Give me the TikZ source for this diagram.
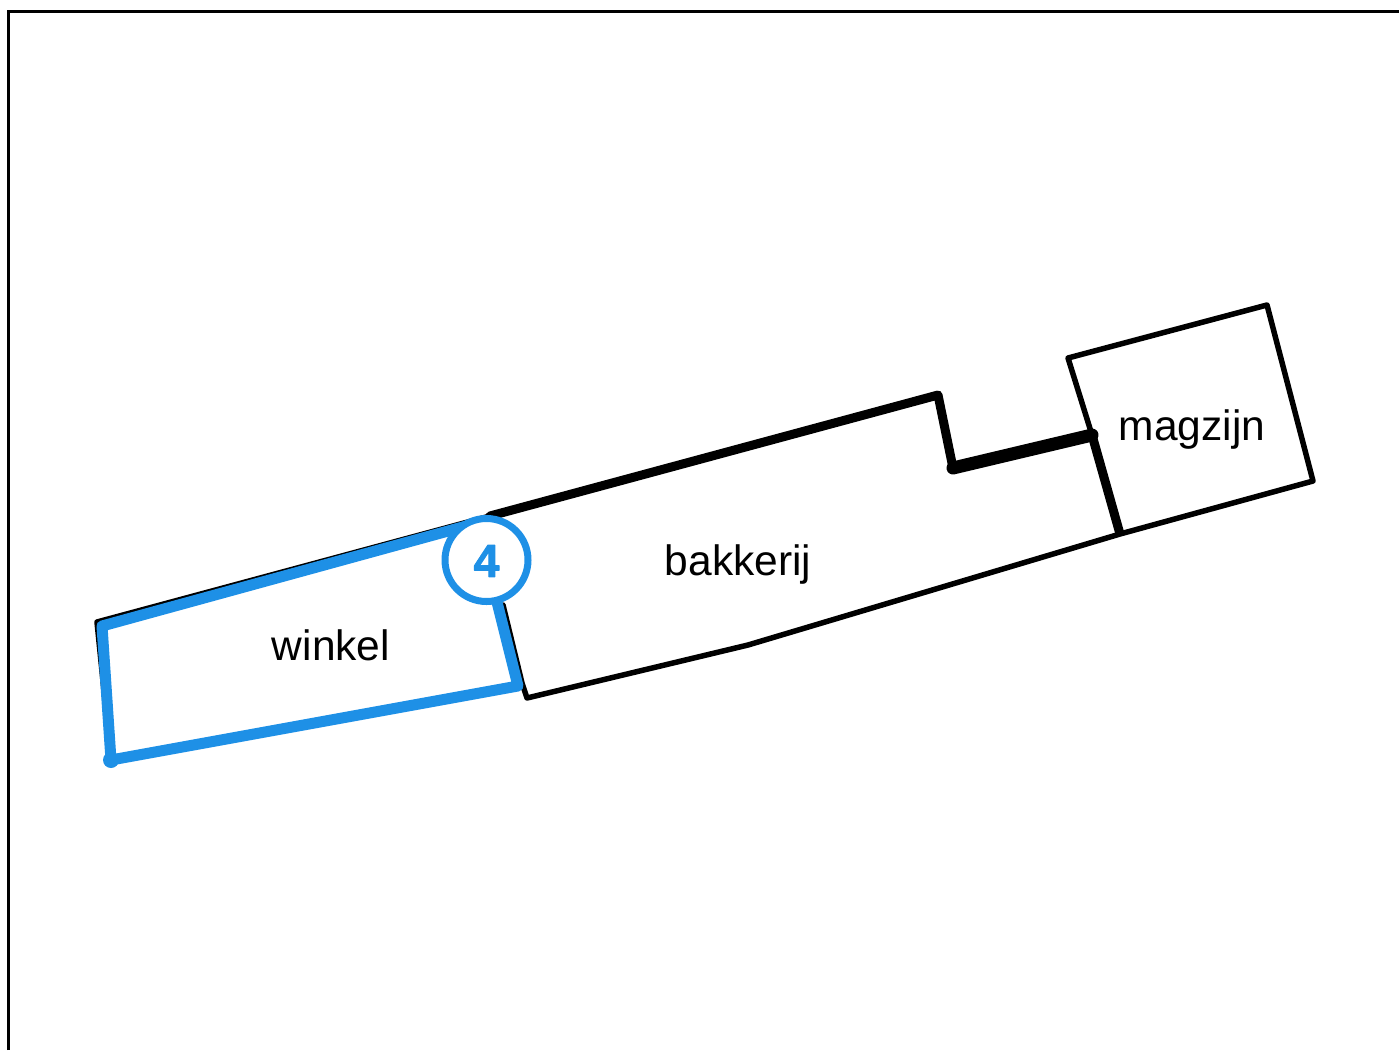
\documentclass[tikz,border=0pt]{standalone}
\usepackage{fontspec}
\setmainfont{Liberation Sans}
\newfontfamily\badgefont[FakeBold=2]{Liberation Sans Bold}
\definecolor{routeblue}{HTML}{1E90E6}
\begin{document}
\begin{tikzpicture}[x=1pt,y=-1pt,line join=round,line cap=round]
    \tikzstyle{wall} = [draw=black, line width=5.5pt]
    \tikzstyle{thickwall} = [draw=black, line width=9pt]
    \tikzstyle{heavywall} = [draw=black, line width=13pt]
    \tikzstyle{route} = [draw=routeblue, line width=11pt]
    \tikzstyle{room} = [font=\fontsize{42.5}{50}\selectfont, inner sep=0pt]
    \useasboundingbox (0,0) rectangle (1399,1050);
    % frame
    \coordinate (frameA) at (8.5,1050);
    \coordinate (frameB) at (8.5,11);
    \coordinate (frameC) at (1399,11);
    \draw[line width=3pt, line cap=butt, line join=miter] (frameA) -- (frameB) -- (frameC);
    % walls
    \coordinate (shopNW) at (97,622);
    \coordinate (shopSW) at (111,760);
    \coordinate (roofA) at (490,516);
    \coordinate (roofB) at (938,395);
    \coordinate (stepA) at (953,468);
    \coordinate (stepB) at (1092,435);
    \coordinate (storeA) at (1068,358);
    \coordinate (storeB) at (1267,305);
    \coordinate (storeC) at (1313,481);
    \coordinate (storeD) at (1120,534);
    \coordinate (bendA) at (748,645);
    \coordinate (bakeS) at (527,698);
    \coordinate (bakeJog) at (522,683);
    \coordinate (bakeW) at (503,605);
    \draw[wall] (shopSW) -- (shopNW) -- (roofA);
    \draw[thickwall] (roofA) -- (roofB) -- (stepA);
    \draw[heavywall] (stepA) -- (stepB);
    \draw[thickwall, line cap=butt] (stepB) -- (storeD);
    \draw[wall] (stepB) -- (storeA) -- (storeB) -- (storeC) -- (storeD) -- (bendA) -- (bakeS) -- (bakeJog) -- (bakeW);
    % shop
    \coordinate (blueA) at (102,626);
    \coordinate (blueB) at (470,525);
    \coordinate (blueC) at (494,590);
    \coordinate (blueD) at (518,686);
    \draw[route] (blueB) -- (blueA) -- (shopSW) -- (blueD) -- (blueC);
    \node[circle, fill=routeblue, minimum size=16pt, inner sep=0pt] (dot) at (shopSW) {};
    \node[circle, draw=routeblue, fill=white, line width=7pt, minimum size=83pt, inner sep=0pt] (badge) at (486.5,560) {};
    \node[text=routeblue, font=\fontsize{46}{50}\badgefont, inner sep=0pt] (badgenum) at (486.5,561) {4};
    % labels
    \node[room] (winkel) at (331,645) {winkel};
    \node[room] (bakkerij) at (738,564.5) {bakkerij};
    \node[room] (magzijn) at (1192,430) {magzijn};
\end{tikzpicture}
\end{document}
